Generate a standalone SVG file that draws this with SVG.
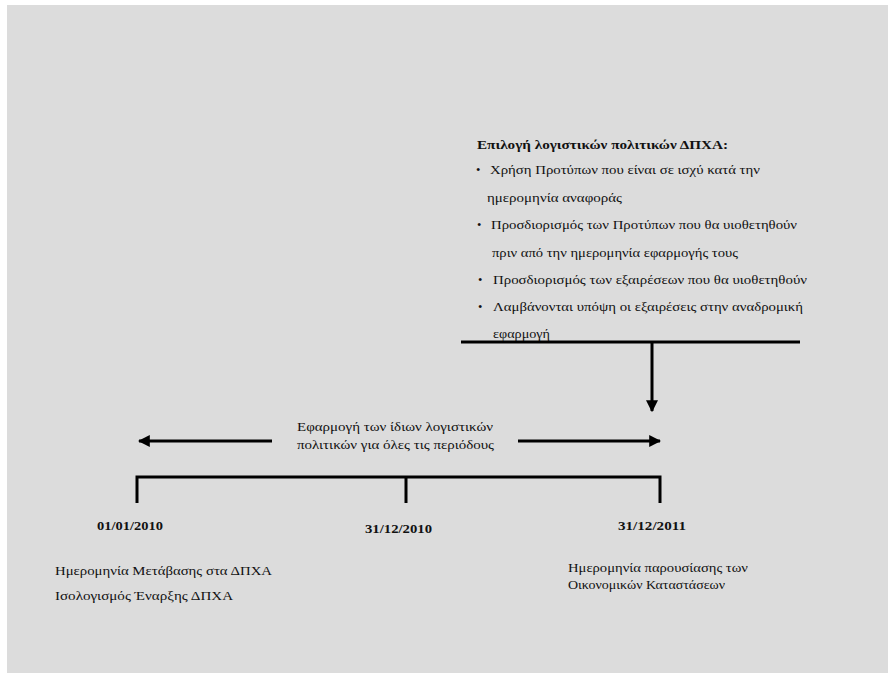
<svg xmlns="http://www.w3.org/2000/svg" width="888" height="673" viewBox="0 0 888 673">
<style>
text{font-family:"Liberation Serif","DejaVu Serif",serif;fill:#111}
.t{font-size:12.5px}
.b{font-size:13px;font-weight:bold}
.ln{stroke:#000;stroke-width:3;fill:none}
</style>
<defs>
<marker id="ah" viewBox="0 0 10 10" refX="9" refY="5" markerWidth="4" markerHeight="4" markerUnits="strokeWidth" orient="auto">
<path d="M0,0 L10,5 L0,10 z" fill="#000"/>
</marker>
</defs>
<rect width="888" height="673" fill="#fff"/>
<rect x="7" y="5" width="881" height="668" fill="#dcdcdc"/>
<g id="connectors">
<line class="ln" x1="461" y1="342" x2="800" y2="342"/>
<line class="ln" x1="652" y1="342" x2="652" y2="411" marker-end="url(#ah)"/>
<line class="ln" x1="272" y1="441" x2="139" y2="441" marker-end="url(#ah)"/>
<line class="ln" x1="518" y1="441" x2="660" y2="441" marker-end="url(#ah)"/>
<polyline class="ln" points="137,503 137,477 660,477 660,503"/>
<line class="ln" x1="406" y1="477" x2="406" y2="503"/>
</g>
<g id="policies">
<text class="b" x="477" y="149" textLength="251" lengthAdjust="spacingAndGlyphs">Επιλογή λογιστικών πολιτικών ΔΠΧΑ:</text>
<text class="t" x="476" y="174">•</text>
<text class="t" x="490" y="174" textLength="270" lengthAdjust="spacingAndGlyphs">Χρήση Προτύπων που είναι σε ισχύ κατά την</text>
<text class="t" x="487" y="202" textLength="135" lengthAdjust="spacingAndGlyphs">ημερομηνία αναφοράς</text>
<text class="t" x="477" y="229">•</text>
<text class="t" x="491" y="229" textLength="306" lengthAdjust="spacingAndGlyphs">Προσδιορισμός των Προτύπων που θα υιοθετηθούν</text>
<text class="t" x="492" y="257" textLength="246" lengthAdjust="spacingAndGlyphs">πριν από την ημερομηνία εφαρμογής τους</text>
<text class="t" x="478" y="284">•</text>
<text class="t" x="493" y="284" textLength="314" lengthAdjust="spacingAndGlyphs">Προσδιορισμός των εξαιρέσεων  που θα υιοθετηθούν</text>
<text class="t" x="478" y="311">•</text>
<text class="t" x="493" y="311" textLength="310" lengthAdjust="spacingAndGlyphs">Λαμβάνονται υπόψη οι εξαιρέσεις στην  αναδρομική</text>
<text class="t" x="493" y="338" textLength="57" lengthAdjust="spacingAndGlyphs">εφαρμογή</text>
</g>
<g id="consistent">
<text class="t" x="297" y="431" textLength="196" lengthAdjust="spacingAndGlyphs">Εφαρμογή των ίδιων λογιστικών</text>
<text class="t" x="297" y="449" textLength="197" lengthAdjust="spacingAndGlyphs">πολιτικών για όλες τις περιόδους</text>
</g>
<g id="d2010a">
<text class="b" x="97" y="530" textLength="66" lengthAdjust="spacingAndGlyphs">01/01/2010</text>
<text class="t" x="55" y="575" textLength="217" lengthAdjust="spacingAndGlyphs">Ημερομηνία Μετάβασης στα ΔΠΧΑ</text>
<text class="t" x="55" y="600" textLength="178" lengthAdjust="spacingAndGlyphs">Ισολογισμός Έναρξης ΔΠΧΑ</text>
</g>
<g id="d2010b">
<text class="b" x="365" y="533" textLength="67" lengthAdjust="spacingAndGlyphs">31/12/2010</text>
</g>
<g id="d2011">
<text class="b" x="618" y="530" textLength="68" lengthAdjust="spacingAndGlyphs">31/12/2011</text>
<text class="t" x="568" y="572" textLength="180" lengthAdjust="spacingAndGlyphs">Ημερομηνία παρουσίασης των</text>
<text class="t" x="568" y="589" textLength="157" lengthAdjust="spacingAndGlyphs">Οικονομικών Καταστάσεων</text>
</g>
</svg>
